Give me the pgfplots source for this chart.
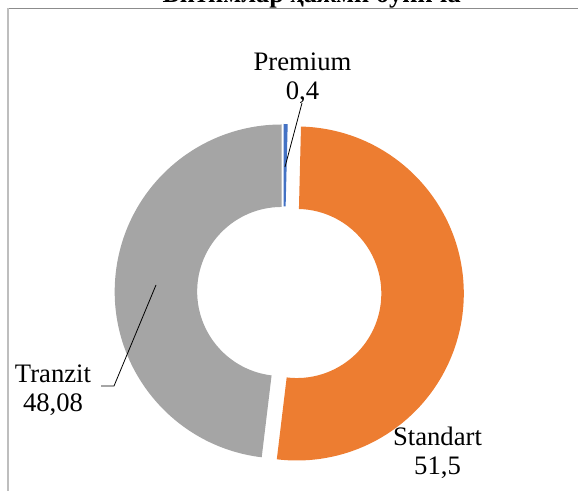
\documentclass[border=0pt]{standalone}
\usepackage{fontspec}
\setmainfont{Liberation Serif}
\usepackage{pgfplots}
\usepackage{pgfplotstable}
\pgfplotsset{compat=1.18}
\usetikzlibrary{calc}

\definecolor{premblue}{RGB}{68,114,196}
\definecolor{stdorange}{RGB}{237,125,49}
\definecolor{trgray}{RGB}{165,165,165}
\definecolor{frametop}{RGB}{140,140,140}
\definecolor{frameleft}{RGB}{190,190,190}

% value = share; cx, cy = exploded slice centre (axis units = px)
\pgfplotstableread{
label     value  col        cx     cy
Premium   0.4    premblue   283.5  200
Standart  51.5   stdorange  296.8  197.5
Tranzit   48.08  trgray     281.7  199.5
}\slices

\newcommand{\lblfont}{\fontsize{20}{22}\selectfont}

\begin{document}
\begin{tikzpicture}
\begin{axis}[
  hide axis,
  scale only axis,
  width=433.5pt, height=368.25pt,
  xmin=0, xmax=578, ymin=0, ymax=491,
  clip=false,
]
  \coordinate (ll) at (axis cs:0,0);
  \coordinate (ur) at (axis cs:578,491);

  % total of all slices
  \pgfplotstablegetrowsof{\slices}
  \pgfmathtruncatemacro{\nrows}{\pgfplotsretval-1}
  \gdef\total{0}
  \pgfplotsinvokeforeach{0,...,\nrows}{
    \pgfplotstablegetelem{#1}{value}\of{\slices}
    \pgfmathsetmacro{\tmp}{\total+\pgfplotsretval}
    \xdef\total{\tmp}
  }

  % annular sectors, clockwise from the top
  \def\Rout{125.25pt}
  \def\Rin{63.4pt}
  \gdef\angstart{90}
  \pgfplotsinvokeforeach{0,...,\nrows}{
    \pgfplotstablegetelem{#1}{value}\of{\slices}\let\val\pgfplotsretval
    \pgfplotstablegetelem{#1}{col}\of{\slices}\let\col\pgfplotsretval
    \pgfplotstablegetelem{#1}{cx}\of{\slices}\let\cx\pgfplotsretval
    \pgfplotstablegetelem{#1}{cy}\of{\slices}\let\cy\pgfplotsretval
    \pgfmathsetmacro{\angend}{\angstart-\val/\total*360}
    \edef\doslice{\noexpand\fill[\col]
      ($(axis cs:\cx,\cy)+(\angstart:\Rout)$)
      arc[start angle=\angstart, end angle=\angend, radius=\Rout]
      -- ($(axis cs:\cx,\cy)+(\angend:\Rin)$)
      arc[start angle=\angend, end angle=\angstart, radius=\Rin] -- cycle;}
    \doslice
    \xdef\angstart{\angend}
  }

  % chart area border (clipped in the reference)
  \draw[frametop, line width=1pt] (axis cs:8,482.7) -- (axis cs:578,482.7);
  \draw[frameleft, line width=1.3pt] (axis cs:8,482.7) -- (axis cs:8,0);

  % title, mostly cut off at the top as in the reference
  \node[anchor=base, font=\fontsize{19.8}{24}\selectfont\bfseries]
    at (axis cs:311.7,488) {Битимлар ҳажми бўйича};

  % leader lines
  \draw[black, line width=0.6pt] (axis cs:285,324) -- (axis cs:302,388);
  \draw[black, line width=0.6pt] (axis cs:156,206) -- (axis cs:114,105) -- (axis cs:101,105);

  % data labels (anchored at the baseline of the value line)
  \node[anchor=base, align=center, font=\lblfont, inner sep=0pt]
    at (axis cs:302.5,391) {Premium\\0,4};
  \node[anchor=base, align=center, font=\lblfont, inner sep=0pt]
    at (axis cs:53,79) {Tranzit\\48,08};
  \node[anchor=base, align=center, font=\lblfont, inner sep=0pt]
    at (axis cs:437.5,16) {Standart\\51,5};
\end{axis}
\pgfresetboundingbox
\useasboundingbox (ll) rectangle (ur);
\end{tikzpicture}
\end{document}
